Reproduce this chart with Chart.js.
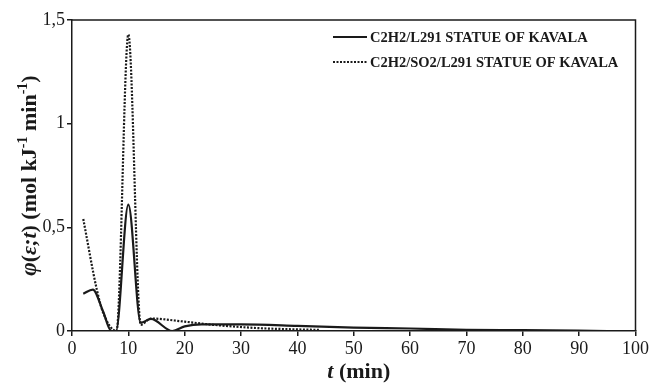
<!DOCTYPE html>
<html>
<head>
<meta charset="utf-8">
<script src="https://cdn.jsdelivr.net/npm/chart.js@4/dist/chart.umd.min.js"></script>
<style>
  html, body { margin: 0; padding: 0; background: #fff; }
  #wrap { width: 651px; height: 385px; }
</style>
</head>
<body>
<div id="wrap"><canvas id="phiChart" width="651" height="385"></canvas></div>
<script>
// values
const seriesNames = ['C2H2/L291 STATUE OF KAVALA', 'C2H2/SO2/L291 STATUE OF KAVALA'];

const timeSolid = [2, 3.7, 5.5, 7, 7.8, 10, 12.2, 14, 17.8, 20, 23, 30, 40, 50, 60, 70, 80, 95];
const phiSolid  = [0.18, 0.2, 0.095, 0, 0, 0.61, 0.04, 0.058, 0, 0.022, 0.032, 0.032, 0.025, 0.016, 0.012, 0.006, 0.004, 0];

const timeDotted = [2, 4.4, 5.5, 7.9, 10, 12.2, 14, 20, 25, 33, 44];
const phiDotted  = [0.54, 0.2, 0.09, 0, 1.43, 0.03, 0.06, 0.045, 0.03, 0.014, 0.005];

const xTicks = [0, 10, 20, 30, 40, 50, 60, 70, 80, 90, 100];
const yTicks = [0, 0.5, 1, 1.5];

const SERIF = "'Liberation Serif', 'DejaVu Serif', serif";
const INK = '#1a1a1a';

function toPoints(xs, ys) {
  return xs.map((x, i) => ({ x: x, y: ys[i] }));
}

// frame, legend and axis titles (mixed italic / superscripts)
const decorPlugin = {
  id: 'decor',
  afterDraw(chart) {
    const ctx = chart.ctx;
    const a = chart.chartArea;
    ctx.save();

    // top and right frame
    ctx.strokeStyle = INK;
    ctx.lineWidth = 1.5;
    ctx.beginPath();
    ctx.moveTo(a.left, a.top);
    ctx.lineTo(a.right, a.top);
    ctx.lineTo(a.right, a.bottom);
    ctx.stroke();

    // legend
    const ds = chart.data.datasets;
    const lx0 = 333, lx1 = 367;
    const rows = [37, 62];
    ctx.font = 'bold 14.5px ' + SERIF;
    ctx.fillStyle = INK;
    ctx.textBaseline = 'middle';
    ds.forEach((d, i) => {
      ctx.beginPath();
      ctx.lineWidth = d.borderWidth;
      ctx.setLineDash(d.borderDash || []);
      ctx.moveTo(lx0, rows[i]);
      ctx.lineTo(lx1, rows[i]);
      ctx.stroke();
      ctx.setLineDash([]);
      ctx.fillText(d.label, lx1 + 3, rows[i] + 1);
    });

    // x title: t (min)
    ctx.textBaseline = 'alphabetic';
    const xParts = [
      { t: 't', f: 'italic bold 22px ' + SERIF },
      { t: ' (min)', f: 'bold 22px ' + SERIF }
    ];
    drawParts(ctx, xParts, (a.left + a.right) / 2 + 5, 378);

    // y title, rotated
    ctx.translate(28, (a.top + a.bottom) / 2);
    ctx.rotate(-Math.PI / 2);
    const yParts = [
      { t: 'φ', f: 'italic bold 23px ' + SERIF },
      { t: '(', f: 'bold 22px ' + SERIF },
      { t: 'ε;t', f: 'italic bold 22px ' + SERIF },
      { t: ') (mol kJ', f: 'bold 22px ' + SERIF },
      { t: '-1', f: 'bold 14px ' + SERIF, dy: -9 },
      { t: ' min', f: 'bold 22px ' + SERIF },
      { t: '-1', f: 'bold 14px ' + SERIF, dy: -9 },
      { t: ')', f: 'bold 22px ' + SERIF }
    ];
    drawParts(ctx, yParts, 0, 8);

    ctx.restore();
  }
};

function drawParts(ctx, parts, cx, y) {
  let total = 0;
  parts.forEach(p => { ctx.font = p.f; p.w = ctx.measureText(p.t).width; total += p.w; });
  let x = cx - total / 2;
  ctx.textAlign = 'left';
  parts.forEach(p => {
    ctx.font = p.f;
    ctx.fillText(p.t, x, y + (p.dy || 0));
    x += p.w;
  });
}

new Chart(document.getElementById('phiChart'), {
  type: 'line',
  data: {
    datasets: [
      {
        label: seriesNames[0],
        data: toPoints(timeSolid, phiSolid),
        borderColor: INK,
        borderWidth: 2.2,
        pointRadius: 0,
        cubicInterpolationMode: 'monotone',
        fill: false
      },
      {
        label: seriesNames[1],
        data: toPoints(timeDotted, phiDotted),
        borderColor: INK,
        borderWidth: 2.2,
        borderDash: [2, 1.5],
        pointRadius: 0,
        cubicInterpolationMode: 'monotone',
        fill: false
      }
    ]
  },
  options: {
    responsive: false,
    animation: false,
    layout: { padding: { top: 20, right: 13, left: 0, bottom: 0 } },
    plugins: {
      legend: { display: false },
      tooltip: { enabled: false }
    },
    scales: {
      x: {
        type: 'linear',
        min: 0,
        max: 100,
        afterBuildTicks(axis) { axis.ticks = xTicks.map(v => ({ value: v })); },
        afterFit(axis) { axis.height = 54; },
        grid: { drawOnChartArea: false, drawTicks: true, tickLength: 5, color: INK, lineWidth: 1.5 },
        border: { color: INK, width: 1.5 },
        ticks: {
          color: INK,
          padding: 2,
          maxRotation: 0,
          font: { family: SERIF, size: 18 }
        }
      },
      y: {
        type: 'linear',
        min: 0,
        max: 1.5,
        afterBuildTicks(axis) { axis.ticks = yTicks.map(v => ({ value: v })); },
        afterFit(axis) { axis.width = 72; },
        grid: { drawOnChartArea: false, drawTicks: true, tickLength: 5, color: INK, lineWidth: 1.5 },
        border: { color: INK, width: 1.5 },
        ticks: {
          color: INK,
          padding: 2,
          font: { family: SERIF, size: 18 },
          callback: v => String(v).replace('.', ',')
        }
      }
    }
  },
  plugins: [decorPlugin]
});
</script>
</body>
</html>
